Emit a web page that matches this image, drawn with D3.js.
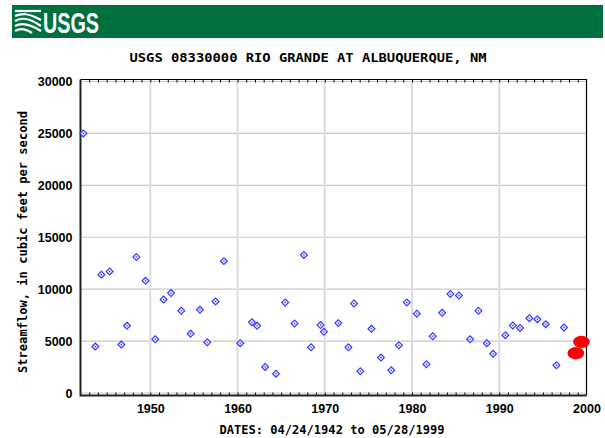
<!DOCTYPE html>
<html>
<head>
<meta charset="utf-8">
<script src="https://cdn.jsdelivr.net/npm/d3@7"></script>
<style>
  html, body { margin: 0; padding: 0; background: #fff; }
  svg { display: block; }
</style>
</head>
<body>
<svg id="chart" width="605" height="438"></svg>
<script>
// ---- data (annual peak streamflow, decimal year of peak) ----
const peakYears = [1942.33, 1943.70, 1944.39, 1945.34, 1946.68, 1947.33, 1948.40, 1949.46,
  1950.57, 1951.52, 1952.37, 1953.55, 1954.62, 1955.69, 1956.53, 1957.48, 1958.44,
  1960.31, 1961.65, 1962.24, 1963.17, 1964.40, 1965.46, 1966.53, 1967.61, 1968.43,
  1969.51, 1969.90, 1971.55, 1972.71, 1973.35, 1974.07, 1975.35, 1976.44, 1977.62,
  1978.49, 1979.40, 1980.55, 1981.65, 1982.38, 1983.45, 1984.40, 1985.38, 1986.66,
  1987.61, 1988.57, 1989.29, 1990.70, 1991.55, 1992.38, 1993.45, 1994.37, 1995.33,
  1996.55, 1997.41];
const peakFlows = [25000, 4470, 11400, 11700, 4660, 6470, 13100, 10800,
  5180, 9000, 9620, 7920, 5700, 8010, 4890, 8810, 12700,
  4800, 6820, 6470, 2510, 1860, 8720, 6690, 13300, 4410,
  6540, 5890, 6730, 4410, 8620, 2100, 6180, 3410, 2190,
  4600, 8720, 7630, 2770, 5470, 7720, 9530, 9390, 5180,
  7920, 4800, 3770, 5570, 6500, 6270, 7210, 7110, 6630,
  2670, 6300];
// flagged peaks (drawn as red markers)
const flaggedYears = [1998.78, 1999.42];
const flaggedFlows = [3830, 4920];

const yTicks = [0, 5000, 10000, 15000, 20000, 25000, 30000];
const xTicks = [1950, 1960, 1970, 1980, 1990, 2000];
const minorYears = d3.range(1943, 2000);

const title = "USGS 08330000 RIO GRANDE AT ALBUQUERQUE, NM";
const xTitle = "DATES: 04/24/1942 to 05/28/1999";
const yTitle = "Streamflow, in cubic feet per second";

// ---- layout ----
const svg = d3.select("#chart");
const L = 80.5, R = 586.5, T = 79.5, B = 395.5;
const x = d3.scaleLinear().domain([1942, 2000]).range([L, R]);
const y = d3.scaleLinear().domain([0, 30000]).range([393, 81.5]);

// ---- USGS banner ----
const banner = svg.append("g");
banner.append("rect").attr("x", 12).attr("y", 5).attr("width", 591).attr("height", 33)
  .attr("fill", "#00703f");
// wave icon
const icon = banner.append("g").attr("fill", "none").attr("stroke", "#fff")
  .attr("stroke-width", 2.2).attr("stroke-linecap", "butt");
icon.append("path").attr("d", "M15,11 L41,11");
icon.append("path").attr("d", "M15,16 C22,13 28,13 41,20");
icon.append("path").attr("d", "M15,21 C22,17 29,18 41,26");
icon.append("path").attr("d", "M15,26 C22,22 30,24 41,31");
icon.append("path").attr("d", "M15,31 C20,28 26,29 32,33");
banner.append("text").attr("x", 43).attr("y", 33)
  .attr("font-family", "Liberation Sans, Arial, sans-serif").attr("font-weight", "bold")
  .attr("font-size", 29).attr("fill", "#fff")
  .attr("textLength", 56).attr("lengthAdjust", "spacingAndGlyphs")
  .text("USGS");

// ---- title ----
svg.append("text").attr("x", 308).attr("y", 62).attr("text-anchor", "middle")
  .attr("font-family", "DejaVu Sans Mono, monospace").attr("font-weight", "bold")
  .attr("font-size", 13).attr("fill", "#000")
  .attr("textLength", 357).attr("lengthAdjust", "spacingAndGlyphs")
  .text(title);

// ---- grid ----
const grid = svg.append("g");
grid.selectAll("line.h").data(yTicks).join("line")
  .attr("x1", L).attr("x2", R).attr("y1", d => y(d)).attr("y2", d => y(d))
  .attr("stroke", "#c8c8c8").attr("stroke-width", 1.2);
grid.selectAll("line.v").data(xTicks.slice(0, -1)).join("line")
  .attr("x1", d => x(d)).attr("x2", d => x(d)).attr("y1", T).attr("y2", B)
  .attr("stroke", "#dcdcdc").attr("stroke-width", 2);

// ---- minor ticks (top and bottom) ----
const minorB = d3.axisBottom(x).tickValues(minorYears).tickSize(-3).tickFormat("");
const gMinB = svg.append("g").attr("transform", `translate(0,${B})`).call(minorB);
gMinB.select(".domain").remove();
gMinB.selectAll(".tick line").attr("stroke", "#000");
const minorT = d3.axisTop(x).tickValues(minorYears).tickSize(-3).tickFormat("");
const gMinT = svg.append("g").attr("transform", `translate(0,${T})`).call(minorT);
gMinT.select(".domain").remove();
gMinT.selectAll(".tick line").attr("stroke", "#000");

// ---- frame ----
svg.append("path").attr("d", `M${L},${T} H${R} V${B}`)
  .attr("fill", "none").attr("stroke", "#000").attr("stroke-width", 1.2);
svg.append("path").attr("d", `M${L},${T} V${B} H${R}`)
  .attr("fill", "none").attr("stroke", "#222").attr("stroke-width", 2);

// ---- axis labels ----
const yAxis = d3.axisLeft(y).tickValues(yTicks).tickSize(0).tickPadding(8).tickFormat(d3.format("d"));
const gy = svg.append("g").attr("transform", `translate(${L},0)`).call(yAxis);
gy.select(".domain").remove();
gy.selectAll("text").attr("font-family", "Liberation Sans, Arial, sans-serif")
  .attr("font-weight", "bold").attr("font-size", 12.5).attr("fill", "#000");

const xAxis = d3.axisBottom(x).tickValues(xTicks).tickSize(0).tickPadding(9).tickFormat(d3.format("d"));
const gx = svg.append("g").attr("transform", `translate(0,${B})`).call(xAxis);
gx.select(".domain").remove();
gx.selectAll("text").attr("font-family", "Liberation Sans, Arial, sans-serif")
  .attr("font-weight", "bold").attr("font-size", 12.5).attr("fill", "#000");

svg.append("text").attr("x", 332).attr("y", 434).attr("text-anchor", "middle")
  .attr("font-family", "DejaVu Sans Mono, monospace").attr("font-weight", "bold")
  .attr("font-size", 12).attr("fill", "#000")
  .attr("textLength", 225).attr("lengthAdjust", "spacingAndGlyphs")
  .text(xTitle);

svg.append("text").attr("transform", "translate(27,242) rotate(-90)")
  .attr("text-anchor", "middle")
  .attr("font-family", "DejaVu Sans Mono, monospace").attr("font-weight", "bold")
  .attr("font-size", 12).attr("fill", "#000")
  .attr("textLength", 262).attr("lengthAdjust", "spacingAndGlyphs")
  .text(yTitle);

// ---- points ----
const peaks = peakYears.map((yr, i) => ({ yr, q: peakFlows[i] }));
const diamond = d3.symbol(d3.symbolSquare, 24)();
const pts = svg.append("g").selectAll("g").data(peaks).join("g")
  .attr("transform", d => `translate(${x(d.yr)},${y(d.q)})`);
pts.append("path").attr("d", diamond).attr("transform", "rotate(45)")
  .attr("fill", "#e4e4ff").attr("stroke", "#3030ff").attr("stroke-width", 1.1);
pts.append("rect").attr("x", -0.6).attr("y", -0.6).attr("width", 1.2).attr("height", 1.2)
  .attr("fill", "#3030ff");

const flagged = flaggedYears.map((yr, i) => ({ yr, q: flaggedFlows[i] }));
svg.append("g").selectAll("ellipse").data(flagged).join("ellipse")
  .attr("cx", d => x(d.yr)).attr("cy", d => y(d.q))
  .attr("rx", 8.3).attr("ry", 6.2).attr("fill", "#ff0000");
</script>
</body>
</html>
